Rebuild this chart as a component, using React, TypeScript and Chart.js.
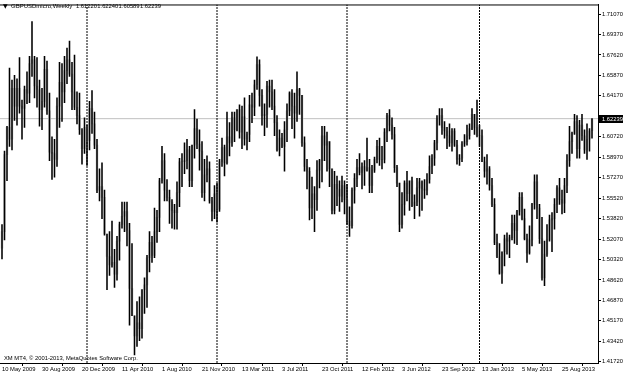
import { useEffect, useRef } from "react";
import { Chart, registerables } from "chart.js";

Chart.register(...registerables);

const SYMBOL = "GBPUSDmicro,Weekly";
const COPYRIGHT = "XM MT4, \u00A9 2001-2013, MetaQuotes Software Corp.";

// Weekly bars, index 0 = week of 10 May 2009 ... index 236 = week of 17 Nov 2013
const OPEN = [
  1.5130,1.5270,1.5920,1.6150,1.6050,1.6480,1.6330,1.6480,1.6330,1.6310,1.6470,1.6440,1.6690,1.6720,1.6500,1.6470,1.6300,1.6370,1.6640,1.6290,1.5940,1.5930,1.5880,1.6330,1.6530,1.6450,1.6630,1.6720,1.6600,1.6450,1.6320,1.6250,1.6130,1.5970,
  1.6150,1.6040,1.6310,1.6180,1.6000,1.5620,1.5650,1.5560,1.5250,1.5060,1.4990,1.5010,1.4910,1.5190,1.5330,1.5400,1.5440,1.5280,1.4790,1.4560,1.4390,1.4500,1.4450,1.4780,1.4820,1.5050,1.5180,1.5070,1.5270,1.5390,1.5700,1.5870,1.5620,1.5560,1.5520,1.5450,1.5430,1.5600,1.5860,1.5860,1.5870,1.5960,1.5700,1.6000,1.6140,1.6010,1.5950,1.5600,1.5750,1.5800,1.5530,1.5440,
  1.5590,1.5460,1.5860,1.5980,1.5850,1.6070,1.6020,1.6230,1.6130,1.6300,1.6110,1.6240,1.6050,1.6090,1.6340,1.6320,1.6510,1.6680,1.6420,1.6250,1.6260,1.6500,1.6450,1.6330,1.6190,1.5960,1.6060,1.5990,1.6130,1.6290,1.6440,1.6330,1.6270,1.6470,1.6420,1.6020,1.5820,1.5780,1.5470,1.5590,1.5540,1.5790,1.5870,1.6080,1.6000,1.6030,1.5800,1.5450,1.5670,1.5630,1.5570,1.5660,
  1.5540,1.5360,1.5320,1.5620,1.5720,1.5810,1.5770,1.5820,1.5790,1.5810,1.5660,1.5790,1.5880,1.5990,1.5880,1.5880,1.6110,1.6250,1.6170,1.6090,1.5810,1.5680,1.5330,1.5500,1.5680,1.5590,1.5700,1.5490,1.5520,1.5640,1.5690,1.5630,1.5620,1.5710,1.5820,1.5890,1.6020,1.6220,1.6250,1.6150,1.6120,1.6080,1.6020,1.6120,1.6000,1.5880,1.5890,1.6010,1.6030,1.6080,1.6140,1.6260,1.6150,
  1.6080,1.6080,1.5860,1.5780,1.5800,1.5660,1.5500,1.5180,1.5060,1.4920,1.5100,1.5210,1.5190,1.5220,1.5340,1.5280,1.5440,1.5560,1.5380,1.5210,1.5090,1.5200,1.5500,1.5690,1.5470,1.5210,1.4880,1.5080,1.5200,1.5370,1.5380,1.5500,1.5640,1.5540,1.5510,1.5660,1.5870,1.6030,1.6100,1.6200,1.5970,1.6170,1.6080,1.5960,1.6050,1.6122,
];
const HIGH = [
  1.5330,1.5950,1.6160,1.6650,1.6550,1.6590,1.6560,1.6740,1.6380,1.6500,1.6620,1.6750,1.7043,1.6750,1.6740,1.6550,1.6480,1.6750,1.6710,1.6440,1.6070,1.6050,1.6400,1.6700,1.6690,1.6750,1.6820,1.6880,1.6700,1.6760,1.6450,1.6440,1.6140,1.6230,
  1.6170,1.6370,1.6460,1.6280,1.6050,1.5800,1.5850,1.5620,1.5250,1.5270,1.5360,1.5120,1.5230,1.5350,1.5520,1.5520,1.5520,1.5340,1.5170,1.4560,1.4680,1.4720,1.4780,1.4880,1.5070,1.5270,1.5230,1.5470,1.5450,1.5720,1.5990,1.5930,1.5710,1.5620,1.5540,1.5500,1.5690,1.5890,1.5930,1.6020,1.6050,1.5990,1.6000,1.6300,1.6220,1.6130,1.6030,1.5880,1.5910,1.5860,1.5560,1.5660,
  1.5680,1.5880,1.6060,1.6000,1.6280,1.6190,1.6280,1.6280,1.6300,1.6340,1.6330,1.6400,1.6110,1.6420,1.6440,1.6550,1.6747,1.6720,1.6470,1.6350,1.6540,1.6550,1.6550,1.6470,1.6250,1.6130,1.6100,1.6200,1.6350,1.6450,1.6470,1.6440,1.6620,1.6480,1.6420,1.6070,1.5880,1.5810,1.5730,1.5650,1.5870,1.5880,1.6160,1.6160,1.6110,1.6030,1.5800,1.5780,1.5740,1.5700,1.5740,1.5700,
  1.5670,1.5480,1.5640,1.5760,1.5880,1.5930,1.5850,1.5870,1.6060,1.5880,1.5830,1.5900,1.6040,1.6060,1.5990,1.6140,1.6270,1.6300,1.6230,1.6150,1.5830,1.5680,1.5600,1.5700,1.5780,1.5700,1.5730,1.5580,1.5720,1.5720,1.5700,1.5710,1.5760,1.5910,1.5920,1.6040,1.6250,1.6310,1.6310,1.6200,1.6150,1.6180,1.6140,1.6140,1.6040,1.5920,1.6030,1.6090,1.6170,1.6180,1.6310,1.6260,1.6380,
  1.6170,1.6130,1.5900,1.5920,1.5820,1.5720,1.5550,1.5250,1.5170,1.5100,1.5240,1.5260,1.5240,1.5410,1.5410,1.5450,1.5600,1.5600,1.5460,1.5250,1.5320,1.5510,1.5750,1.5750,1.5500,1.5390,1.5190,1.5330,1.5410,1.5430,1.5550,1.5660,1.5720,1.5620,1.5720,1.5920,1.6160,1.6110,1.6260,1.6250,1.6210,1.6260,1.6130,1.6180,1.6140,1.6224,
];
const LOW = [
  1.5040,1.5200,1.5700,1.5990,1.5960,1.6210,1.6170,1.6270,1.6050,1.6150,1.6350,1.6360,1.6580,1.6400,1.6320,1.6160,1.6130,1.6320,1.6260,1.5870,1.5710,1.5730,1.5820,1.6150,1.6200,1.6360,1.6520,1.6580,1.6300,1.6300,1.6180,1.6090,1.5840,1.5930,
  1.5830,1.5960,1.6100,1.5970,1.5600,1.5530,1.5380,1.5240,1.4780,1.4900,1.4970,1.4800,1.4860,1.5030,1.5300,1.5270,1.5150,1.4480,1.4560,1.4230,1.4300,1.4350,1.4370,1.4580,1.4630,1.4930,1.5010,1.5050,1.5180,1.5270,1.5680,1.5530,1.5530,1.5340,1.5300,1.5290,1.5290,1.5480,1.5650,1.5760,1.5800,1.5650,1.5650,1.5890,1.5970,1.5790,1.5560,1.5530,1.5690,1.5510,1.5360,1.5380,
  1.5350,1.5440,1.5820,1.5740,1.5840,1.5910,1.5990,1.6030,1.6120,1.6060,1.5970,1.6000,1.5960,1.6030,1.6190,1.6250,1.6470,1.6330,1.6170,1.6080,1.6150,1.6320,1.6300,1.6080,1.5950,1.5910,1.5980,1.5780,1.6030,1.6250,1.6140,1.6060,1.6200,1.6260,1.5990,1.5780,1.5630,1.5370,1.5380,1.5270,1.5450,1.5640,1.5690,1.5870,1.5780,1.5650,1.5420,1.5420,1.5490,1.5440,1.5520,1.5420,
  1.5330,1.5230,1.5300,1.5510,1.5650,1.5750,1.5630,1.5660,1.5780,1.5600,1.5600,1.5770,1.5850,1.5830,1.5800,1.5850,1.6030,1.6120,1.6050,1.5770,1.5650,1.5270,1.5300,1.5410,1.5530,1.5450,1.5480,1.5380,1.5490,1.5400,1.5450,1.5550,1.5580,1.5680,1.5760,1.5830,1.5960,1.6170,1.6090,1.6060,1.5970,1.5990,1.5950,1.5990,1.5840,1.5830,1.5860,1.5990,1.6000,1.6050,1.6130,1.6090,1.6070,
  1.5990,1.5860,1.5730,1.5670,1.5620,1.5480,1.5160,1.5050,1.4910,1.4832,1.4980,1.5080,1.5050,1.5200,1.5170,1.5160,1.5410,1.5370,1.5200,1.5010,1.5080,1.5150,1.5460,1.5380,1.5170,1.4860,1.4814,1.5060,1.5190,1.5100,1.5290,1.5430,1.5500,1.5420,1.5430,1.5600,1.5820,1.5930,1.6090,1.5890,1.5890,1.6040,1.5930,1.5880,1.5950,1.60589,
];
const CLOSE = [
  1.5270,1.5920,1.6150,1.6050,1.6480,1.6330,1.6480,1.6330,1.6310,1.6470,1.6440,1.6690,1.6720,1.6500,1.6470,1.6300,1.6370,1.6640,1.6290,1.5940,1.5930,1.5880,1.6330,1.6530,1.6450,1.6630,1.6720,1.6600,1.6450,1.6320,1.6250,1.6130,1.5970,1.6150,
  1.6040,1.6310,1.6180,1.6000,1.5620,1.5650,1.5560,1.5250,1.5060,1.4990,1.5010,1.4910,1.5190,1.5330,1.5400,1.5440,1.5280,1.4790,1.4560,1.4390,1.4500,1.4450,1.4780,1.4820,1.5050,1.5180,1.5070,1.5270,1.5390,1.5700,1.5870,1.5620,1.5560,1.5520,1.5450,1.5430,1.5600,1.5860,1.5860,1.5870,1.5960,1.5700,1.6000,1.6140,1.6010,1.5950,1.5600,1.5750,1.5800,1.5530,1.5440,1.5590,
  1.5460,1.5860,1.5980,1.5850,1.6070,1.6020,1.6230,1.6130,1.6300,1.6110,1.6240,1.6050,1.6090,1.6340,1.6320,1.6510,1.6680,1.6420,1.6250,1.6260,1.6500,1.6450,1.6330,1.6190,1.5960,1.6060,1.5990,1.6130,1.6290,1.6440,1.6330,1.6270,1.6470,1.6420,1.6020,1.5820,1.5780,1.5470,1.5590,1.5540,1.5790,1.5870,1.6080,1.6000,1.6030,1.5800,1.5450,1.5670,1.5630,1.5570,1.5660,1.5540,
  1.5360,1.5320,1.5620,1.5720,1.5810,1.5770,1.5820,1.5790,1.5810,1.5660,1.5790,1.5880,1.5990,1.5880,1.5880,1.6110,1.6250,1.6170,1.6090,1.5810,1.5680,1.5330,1.5500,1.5680,1.5590,1.5700,1.5490,1.5520,1.5640,1.5690,1.5630,1.5620,1.5710,1.5820,1.5890,1.6020,1.6220,1.6250,1.6150,1.6120,1.6080,1.6020,1.6120,1.6000,1.5880,1.5890,1.6010,1.6030,1.6080,1.6140,1.6260,1.6150,1.6080,
  1.6080,1.5860,1.5780,1.5800,1.5660,1.5500,1.5180,1.5060,1.4920,1.5100,1.5210,1.5190,1.5220,1.5340,1.5280,1.5440,1.5560,1.5380,1.5210,1.5090,1.5200,1.5500,1.5690,1.5470,1.5210,1.4880,1.5080,1.5200,1.5370,1.5380,1.5500,1.5640,1.5540,1.5510,1.5660,1.5870,1.6030,1.6100,1.6200,1.5970,1.6170,1.6080,1.5960,1.6050,1.6120,1.62239,
];

const X_LABEL_INDEX = [0, 16, 32, 48, 64, 80, 96, 112, 128, 144, 160, 176, 192, 208, 224];
const X_LABELS = [
  "10 May 2009", "30 Aug 2009", "20 Dec 2009", "11 Apr 2010", "1 Aug 2010",
  "21 Nov 2010", "13 Mar 2011", "3 Jul 2011", "23 Oct 2011", "12 Feb 2012",
  "3 Jun 2012", "23 Sep 2012", "13 Jan 2013", "5 May 2013", "25 Aug 2013",
];
const SEPARATOR_INDEX = [34, 86, 138, 191];
const Y_TICKS = [
  1.7107, 1.6937, 1.6762, 1.6587, 1.6417, 1.6072, 1.5897, 1.5727, 1.5552,
  1.5382, 1.5207, 1.5032, 1.4862, 1.4687, 1.4517, 1.4342, 1.4172,
];
const Y_MIN = 1.4161;
const Y_MAX = 1.7188;
const X_MIN = -0.8;
const X_MAX = 238.4;

const FONT_FAMILY = "'Liberation Sans', Arial, sans-serif";
const FONT_SIZE = 5.8;

const overlayPlugin = {
  id: "mt4Overlay",
  afterDraw(chart: any) {
    const { ctx, chartArea, scales } = chart;
    const n = CLOSE.length - 1;
    ctx.save();
    ctx.strokeStyle = "#000";
    ctx.lineWidth = 1;
    ctx.beginPath();
    ctx.moveTo(chartArea.left, chartArea.top + 0.5);
    ctx.lineTo(chartArea.right, chartArea.top + 0.5);
    ctx.stroke();
    ctx.fillStyle = "#000";
    ctx.textBaseline = "middle";
    ctx.textAlign = "left";
    ctx.font = `6px 'DejaVu Sans', sans-serif`;
    ctx.fillText("\u25BC", 3, 6.5);
    ctx.font = `6px ${FONT_FAMILY}`;
    ctx.fillText(SYMBOL, 11, 6.5);
    ctx.font = `${FONT_SIZE}px ${FONT_FAMILY}`;
    const quote = [OPEN[n], HIGH[n], LOW[n], CLOSE[n]].map((v) => v.toFixed(5));
    const qx = [76, 97.3, 118.6, 140];
    quote.forEach((q, i) => ctx.fillText(q, qx[i], 6.5));
    ctx.fillText(COPYRIGHT, 4, 358.5);
    const y = scales.y.getPixelForValue(CLOSE[n]);
    ctx.fillStyle = "#000";
    ctx.fillRect(chartArea.right, Math.round(y) - 4, 25, 8);
    ctx.fillStyle = "#fff";
    ctx.fillText(CLOSE[n].toFixed(5), chartArea.right + 4, Math.round(y));
    ctx.restore();
  },
};

export default function App() {
  const canvasRef = useRef<HTMLCanvasElement | null>(null);

  useEffect(() => {
    const canvas = canvasRef.current;
    if (!canvas) return;

    const hl = OPEN.map((_, i) => ({ x: i, y: [LOW[i], HIGH[i]] }));
    const oc = OPEN.map((o, i) => ({
      x: i,
      y: [Math.min(o, CLOSE[i]), Math.max(o, CLOSE[i])],
    }));
    const last = CLOSE[CLOSE.length - 1];

    const separatorSets = SEPARATOR_INDEX.map((idx) => ({
      type: "line" as const,
      data: [
        { x: idx, y: Y_MIN },
        { x: idx, y: Y_MAX },
      ],
      borderColor: "#000",
      borderWidth: 1,
      borderDash: [2, 1],
      pointRadius: 0,
      order: 5,
    }));

    const chart = new Chart(canvas, {
      type: "bar",
      data: {
        datasets: [
          {
            type: "bar",
            data: hl as any,
            backgroundColor: "#000",
            barThickness: 0.9,
            grouped: false,
            order: 0,
          },
          {
            type: "bar",
            data: oc as any,
            backgroundColor: "#cfcfcf",
            barThickness: 2,
            grouped: false,
            order: 1,
          },
          {
            type: "line",
            data: [
              { x: X_MIN, y: last },
              { x: X_MAX, y: last },
            ],
            borderColor: "#c0c0c0",
            borderWidth: 1,
            pointRadius: 0,
            order: 6,
          },
          ...separatorSets,
        ] as any,
      },
      options: {
        animation: false,
        responsive: false,
        events: [],
        layout: { padding: { top: 1, left: 0, right: 0, bottom: 0 }, autoPadding: false } as any,
        plugins: {
          legend: { display: false },
          tooltip: { enabled: false },
          title: { display: false },
        },
        scales: {
          x: {
            type: "linear",
            min: X_MIN,
            max: X_MAX,
            offset: false,
            position: "bottom",
            grid: {
              display: true,
              drawOnChartArea: false,
              drawTicks: true,
              tickLength: 3,
              color: "#000",
            },
            border: { display: true, color: "#000" },
            ticks: {
              autoSkip: false,
              maxRotation: 0,
              minRotation: 0,
              align: "start",
              padding: 0,
              color: "#000",
              font: { family: FONT_FAMILY, size: FONT_SIZE },
              callback: (_v: any, i: number) => X_LABELS[i],
            },
            afterBuildTicks: (scale: any) => {
              scale.ticks = X_LABEL_INDEX.map((v) => ({ value: v }));
            },
            afterFit: (scale: any) => {
              scale.height = 12;
            },
          },
          y: {
            type: "linear",
            position: "right",
            min: Y_MIN,
            max: Y_MAX,
            grid: {
              display: true,
              drawOnChartArea: false,
              drawTicks: true,
              tickLength: 3,
              color: "#000",
            },
            border: { display: true, color: "#000" },
            ticks: {
              padding: 1,
              color: "#000",
              font: { family: FONT_FAMILY, size: FONT_SIZE },
              callback: (v: any) => Number(v).toFixed(5),
            },
            afterBuildTicks: (scale: any) => {
              scale.ticks = Y_TICKS.map((v) => ({ value: v }));
            },
            afterFit: (scale: any) => {
              scale.width = 27;
            },
          },
        },
      } as any,
      plugins: [overlayPlugin],
    });

    return () => {
      chart.destroy();
    };
  }, []);

  return (
    <div style={{ position: "fixed", left: 0, top: 0, width: 625, height: 375, background: "#fff" }}>
      <canvas ref={canvasRef} width={625} height={375} style={{ width: 625, height: 375, display: "block" }} />
    </div>
  );
}
